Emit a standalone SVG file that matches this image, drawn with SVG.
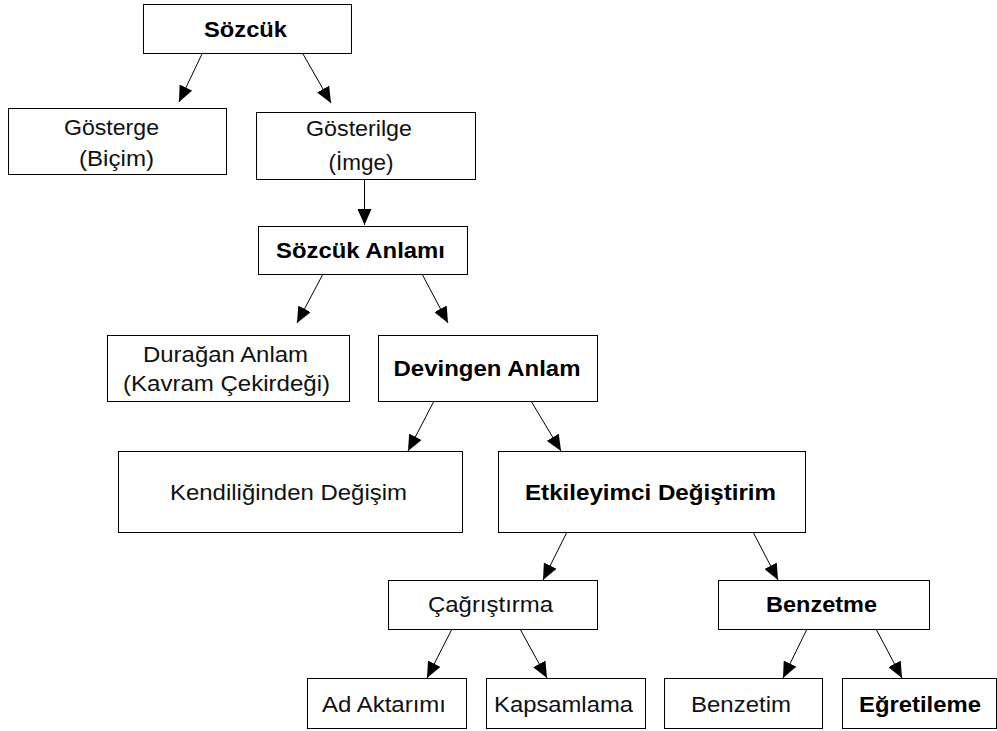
<svg xmlns="http://www.w3.org/2000/svg" width="997" height="731" viewBox="0 0 997 731">
<defs>
<marker id="ah" viewBox="0 0 16 14" markerWidth="16" markerHeight="14" refX="16" refY="7" orient="auto" markerUnits="userSpaceOnUse">
<path d="M0,0 L16,7 L0,14 z" fill="#000"/>
</marker>
<style>
rect{fill:#fff;stroke:#000;stroke-width:1}
text{font-family:"Liberation Sans",Arial,sans-serif;font-size:21.5px;fill:#000;text-anchor:middle}
.b{font-weight:bold}
.r{fill:#111}
#connectors line{stroke:#000;stroke-width:1;marker-end:url(#ah)}
</style>
</defs>
<rect x="0" y="0" width="997" height="731" style="fill:#fff;stroke:none"/>
<g id="connectors">
<line x1="202" y1="54" x2="179" y2="102"/>
<line x1="303" y1="54" x2="331" y2="103"/>
<line x1="364.5" y1="179" x2="364.5" y2="225"/>
<line x1="323" y1="274" x2="297" y2="323"/>
<line x1="422" y1="274" x2="448" y2="323"/>
<line x1="434" y1="401" x2="408" y2="451"/>
<line x1="531" y1="401" x2="561" y2="451"/>
<line x1="567" y1="532" x2="543" y2="580"/>
<line x1="753" y1="532" x2="778" y2="580"/>
<line x1="452" y1="629" x2="427" y2="678"/>
<line x1="520" y1="629" x2="547" y2="678"/>
<line x1="807" y1="629" x2="783" y2="678"/>
<line x1="876" y1="629" x2="902" y2="678"/>
</g>
<g id="n-sozcuk"><rect x="143.5" y="4.5" width="208" height="49"/><text class="b" x="245.5" y="37" textLength="83" lengthAdjust="spacingAndGlyphs">Sözcük</text></g>
<g id="n-gosterge"><rect x="8.5" y="108.5" width="218" height="66"/><text class="r" x="111.5" y="135" textLength="95" lengthAdjust="spacingAndGlyphs">Gösterge</text><text class="r" x="116.5" y="166" textLength="75" lengthAdjust="spacingAndGlyphs">(Biçim)</text></g>
<g id="n-gosterilge"><rect x="256.5" y="112.5" width="219" height="67"/><text class="r" x="359" y="136" textLength="106" lengthAdjust="spacingAndGlyphs">Gösterilge</text><text class="r" x="361" y="170" textLength="65" lengthAdjust="spacingAndGlyphs">(İmge)</text></g>
<g id="n-sozcuk-anlami"><rect x="258.5" y="226.5" width="209" height="48"/><text class="b" x="360.5" y="258" textLength="169" lengthAdjust="spacingAndGlyphs">Sözcük Anlamı</text></g>
<g id="n-duragan"><rect x="107.5" y="335.5" width="242" height="66"/><text class="r" x="225.5" y="362" textLength="165" lengthAdjust="spacingAndGlyphs">Durağan Anlam</text><text class="r" x="226.5" y="391" textLength="207" lengthAdjust="spacingAndGlyphs">(Kavram Çekirdeği)</text></g>
<g id="n-devingen"><rect x="378.5" y="335.5" width="219" height="66"/><text class="b" x="487" y="376" textLength="187" lengthAdjust="spacingAndGlyphs">Devingen Anlam</text></g>
<g id="n-kendiliginden"><rect x="118.5" y="451.5" width="344" height="81"/><text class="r" x="288.5" y="500" textLength="237" lengthAdjust="spacingAndGlyphs">Kendiliğinden Değişim</text></g>
<g id="n-etkileyimci"><rect x="498.5" y="451.5" width="307" height="81"/><text class="b" x="650.5" y="500" textLength="251" lengthAdjust="spacingAndGlyphs">Etkileyimci Değiştirim</text></g>
<g id="n-cagristirma"><rect x="388.5" y="580.5" width="209" height="49"/><text class="r" x="490.5" y="612" textLength="125" lengthAdjust="spacingAndGlyphs">Çağrıştırma</text></g>
<g id="n-benzetme"><rect x="718.5" y="580.5" width="211" height="49"/><text class="b" x="821.5" y="612" textLength="111" lengthAdjust="spacingAndGlyphs">Benzetme</text></g>
<g id="n-ad-aktarimi"><rect x="307.5" y="678.5" width="159" height="50"/><text class="r" x="384" y="712" textLength="124" lengthAdjust="spacingAndGlyphs">Ad Aktarımı</text></g>
<g id="n-kapsamlama"><rect x="486.5" y="678.5" width="159" height="50"/><text class="r" x="563.5" y="712" textLength="139" lengthAdjust="spacingAndGlyphs">Kapsamlama</text></g>
<g id="n-benzetim"><rect x="664.5" y="678.5" width="158" height="50"/><text class="r" x="741" y="712" textLength="100" lengthAdjust="spacingAndGlyphs">Benzetim</text></g>
<g id="n-egretileme"><rect x="842.5" y="678.5" width="154" height="50"/><text class="b" x="920" y="712" textLength="122" lengthAdjust="spacingAndGlyphs">Eğretileme</text></g>
</svg>
